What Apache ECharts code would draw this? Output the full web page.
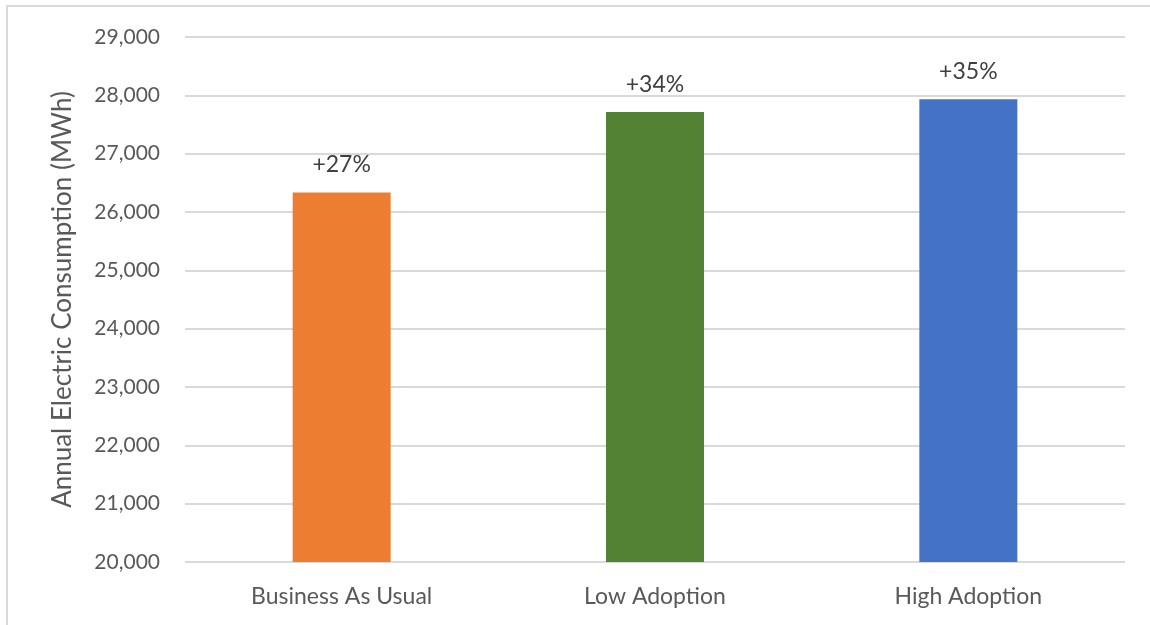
<!DOCTYPE html>
<html>
<head>
<meta charset="utf-8">
<script src="https://cdn.jsdelivr.net/npm/echarts@6/dist/echarts.min.js"></script>
<style>
html,body{margin:0;padding:0;background:#fff;}
#c{width:1150px;height:625px;}
</style>
</head>
<body>
<div id="c"></div>
<script>
const categories = ["Business As Usual", "Low Adoption", "High Adoption"];
const values = [26335, 27714, 27931];
const labels = ["+27%", "+34%", "+35%"];
const colors = ["#ED7D31", "#548235", "#4472C4"];
const yAxisName = "Annual Electric Consumption (MWh)";

const FONT = "Lato, 'Open Sans', sans-serif";
const chart = echarts.init(document.getElementById('c'));
chart.setOption({
  animation: false,
  backgroundColor: '#fff',
  graphic: [{
    type: 'rect',
    shape: { x: 7, y: 6, width: 1200, height: 700 },
    style: { fill: 'none', stroke: '#D9D9D9', lineWidth: 2 },
    silent: true
  }],
  grid: { left: 185, right: 25, top: 37, bottom: 63, containLabel: false },
  xAxis: {
    type: 'category',
    data: categories,
    axisLine: { show: false },
    axisTick: { show: false },
    axisLabel: { color: '#595959', fontSize: 23, fontFamily: FONT, margin: 23 }
  },
  yAxis: {
    type: 'value',
    min: 20000, max: 29000, interval: 1000,
    name: yAxisName,
    nameLocation: 'middle',
    nameGap: 109,
    nameTextStyle: { color: '#595959', fontSize: 26, fontFamily: FONT },
    axisLine: { show: false },
    axisTick: { show: false },
    splitLine: { lineStyle: { color: '#D9D9D9', width: 2 } },
    axisLabel: {
      color: '#595959', fontSize: 21, fontFamily: FONT, margin: 25,
      formatter: v => v.toLocaleString('en-US')
    }
  },
  series: [{
    type: 'bar',
    barWidth: 98,
    data: values.map((v, i) => ({ value: v, itemStyle: { color: colors[i] } })),
    label: {
      show: true, position: 'top', distance: 16,
      color: '#404040', fontSize: 23, fontFamily: FONT,
      formatter: p => labels[p.dataIndex]
    }
  }]
});
</script>
</body>
</html>
